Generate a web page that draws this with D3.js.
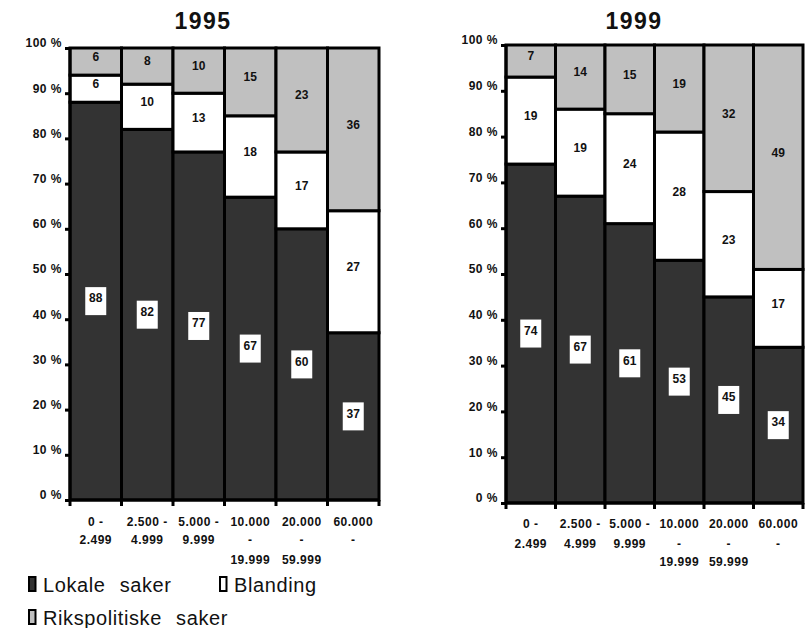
<!DOCTYPE html>
<html>
<head>
<meta charset="utf-8">
<script src="https://cdn.jsdelivr.net/npm/d3@7"></script>
<style>
  body { margin: 0; background: #fff; }
  text { font-family: "Liberation Sans", Arial, sans-serif; fill: #111; }
  .axis text { font-size: 12px; font-weight: bold; letter-spacing: 0.5px; }
  .title { font-size: 23px; font-weight: bold; letter-spacing: 1.5px; }
  .val { font-size: 12px; font-weight: bold; }
  .legend text { font-size: 20px; letter-spacing: 0.6px; word-spacing: 8px; }
</style>
</head>
<body>
<svg id="chart" width="809" height="628"></svg>
<script>
var categories = ["0 - 2.499", "2.500 - 4.999", "5.000 - 9.999", "10.000 - 19.999", "20.000 - 59.999", "60.000 -"];
var tickLines = [["0 -", "2.499"], ["2.500 -", "4.999"], ["5.000 -", "9.999"], ["10.000", "-", "19.999"], ["20.000", "-", "59.999"], ["60.000", "-"]];
var seriesNames = ["Lokale saker", "Blanding", "Rikspolitiske saker"];
var seriesKeys = ["lokale", "blanding", "riks"];
var colors = ["#333333", "#ffffff", "#c0c0c0"];
var yTicks = [0, 10, 20, 30, 40, 50, 60, 70, 80, 90, 100];

var lokale1995 = [88, 82, 77, 67, 60, 37];
var blanding1995 = [6, 10, 13, 18, 17, 27];
var riks1995 = [6, 8, 10, 15, 23, 36];

var lokale1999 = [74, 67, 61, 53, 45, 34];
var blanding1999 = [19, 19, 24, 28, 23, 17];
var riks1999 = [7, 14, 15, 19, 32, 49];

var svg = d3.select("#chart");

var panels = [
  {title: "1995", lokale: lokale1995, blanding: blanding1995, riks: riks1995,
   left: 70, right: 379, top: 48, bottom: 500, titleX: 203, titleY: 29, lineY: [522, 540, 560]},
  {title: "1999", lokale: lokale1999, blanding: blanding1999, riks: riks1999,
   left: 506, right: 803, top: 45, bottom: 503, titleX: 634, titleY: 29, lineY: [524, 544, 562]}
];

panels.forEach(drawPanel);

function drawPanel(p) {
  var rows = categories.map(function(c, i) {
    return {cat: c, lokale: p.lokale[i], blanding: p.blanding[i], riks: p.riks[i]};
  });
  var stacked = d3.stack().keys(seriesKeys)(rows);

  var x = d3.scaleBand().domain(categories).range([p.left, p.right]).padding(0);
  var y = d3.scaleLinear().domain([0, 100]).range([p.bottom, p.top]);

  svg.append("text")
      .attr("class", "title")
      .attr("x", p.titleX)
      .attr("y", p.titleY)
      .attr("text-anchor", "middle")
      .text(p.title);

  // segments
  stacked.forEach(function(layer, li) {
    svg.append("g").selectAll("rect")
        .data(layer)
        .enter().append("rect")
            .attr("x", function(d) { return x(d.data.cat); })
            .attr("y", function(d) { return y(d[1]); })
            .attr("width", x.bandwidth())
            .attr("height", function(d) { return y(d[0]) - y(d[1]); })
            .attr("fill", colors[li])
            .attr("stroke", "#000")
            .attr("stroke-width", 3);
  });

  // value labels
  stacked.forEach(function(layer, li) {
    var g = svg.append("g").selectAll("g")
        .data(layer)
        .enter().append("g")
            .attr("transform", function(d) {
              return "translate(" + (x(d.data.cat) + x.bandwidth() / 2) + "," + y((d[0] + d[1]) / 2) + ")";
            });
    if (li == 0) {
      g.append("rect")
          .attr("x", -10.5)
          .attr("y", -14)
          .attr("width", 21)
          .attr("height", 28)
          .attr("fill", "#fff");
    }
    g.append("text")
        .attr("class", "val")
        .attr("text-anchor", "middle")
        .attr("dy", li == 0 ? "0.1em" : "-0.05em")
        .text(function(d) { return d[1] - d[0]; });
  });

  // y axis
  var yAxis = d3.axisLeft(y)
      .tickValues(yTicks)
      .tickSize(5)
      .tickPadding(3)
      .tickFormat(function(d) { return d + " %"; });
  var ya = svg.append("g")
      .attr("class", "axis")
      .attr("transform", "translate(" + p.left + ",0)")
      .call(yAxis);
  ya.select(".domain").attr("stroke-width", 3).attr("d", "M0," + (p.bottom + 1) + "V" + (p.top - 1));
  ya.selectAll(".tick line").attr("stroke-width", 3);
  ya.selectAll(".tick text").attr("dy", "-0.1em");

  // x axis baseline and boundary ticks
  var bounds = categories.map(function(c) { return x(c); }).concat([p.right]);
  svg.append("line")
      .attr("x1", p.left - 1).attr("x2", p.right + 1)
      .attr("y1", p.bottom).attr("y2", p.bottom)
      .attr("stroke", "#000").attr("stroke-width", 3);
  svg.append("g").selectAll("line")
      .data(bounds)
      .enter().append("line")
          .attr("x1", function(d) { return d; })
          .attr("x2", function(d) { return d; })
          .attr("y1", p.bottom)
          .attr("y2", p.bottom + 6)
          .attr("stroke", "#000")
          .attr("stroke-width", 3);

  // x labels, multi-line
  var xl = svg.append("g").attr("class", "axis").selectAll("text")
      .data(categories)
      .enter().append("text")
          .attr("text-anchor", "middle");
  xl.each(function(c, i) {
    var t = d3.select(this);
    tickLines[i].forEach(function(line, j) {
      t.append("tspan")
          .attr("x", x(c) + x.bandwidth() / 2)
          .attr("y", p.lineY[j] + 4)
          .text(line);
    });
  });
}

// legend
var legendPos = [[28, 592], [219, 592], [28, 625]];
var legend = svg.append("g").attr("class", "legend").selectAll("g")
    .data(seriesNames)
    .enter().append("g")
        .attr("transform", function(d, i) {
          return "translate(" + legendPos[i][0] + "," + legendPos[i][1] + ")";
        });
legend.append("rect")
    .attr("x", 1)
    .attr("y", -15)
    .attr("width", 6.5)
    .attr("height", 14)
    .attr("fill", function(d, i) { return colors[i]; })
    .attr("stroke", "#000")
    .attr("stroke-width", 2);
legend.append("text")
    .attr("x", 15)
    .attr("y", 0)
    .text(function(d) { return d; });
</script>
</body>
</html>
